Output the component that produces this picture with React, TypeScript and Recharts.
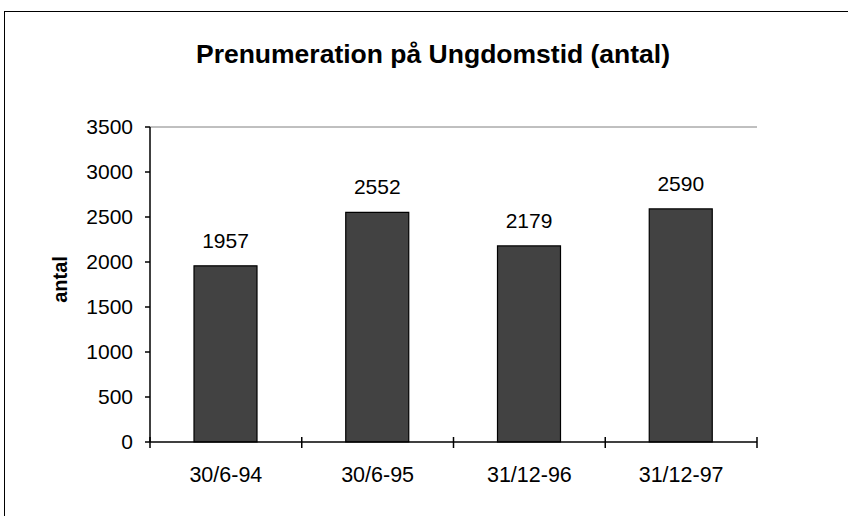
import React from 'react';
import { BarChart, Bar, XAxis, YAxis, LabelList, ReferenceLine } from 'recharts';

const categories = ['30/6-94', '30/6-95', '31/12-96', '31/12-97'];
const subscribers = [1957, 2552, 2179, 2590];
const yTicks = [0, 500, 1000, 1500, 2000, 2500, 3000, 3500];

const data = categories.map((name, i) => ({ name, antal: subscribers[i] }));

const FONT = '"Liberation Sans", Arial, sans-serif';
const PLOT_LEFT = 150;
const PLOT_RIGHT = 757;
const PLOT_BOTTOM = 442;
const BAND = (PLOT_RIGHT - PLOT_LEFT) / categories.length;

// Excel style: ticks sit between categories and cross the axis
const XTick = (props: any) => {
  const { x, payload, index } = props;
  const left = x - BAND / 2;
  const right = x + BAND / 2;
  return (
    <g>
      <line x1={left} x2={left} y1={PLOT_BOTTOM - 5} y2={PLOT_BOTTOM + 6} stroke="#000" strokeWidth={1.5} />
      {index === categories.length - 1 && (
        <line x1={right} x2={right} y1={PLOT_BOTTOM - 5} y2={PLOT_BOTTOM + 6} stroke="#000" strokeWidth={1.5} />
      )}
      <text x={x} y={PLOT_BOTTOM + 40} textAnchor="middle" fontSize={21.5} fill="#000" fontFamily={FONT}>
        {payload.value}
      </text>
    </g>
  );
};

const YLabel = (props: any) => {
  const { viewBox } = props;
  const cx = viewBox.x - 3;
  const cy = viewBox.y + viewBox.height / 2 - 5;
  return (
    <text
      x={cx}
      y={cy}
      transform={`rotate(-90 ${cx} ${cy})`}
      textAnchor="middle"
      fontSize={20}
      fontWeight="bold"
      fill="#000"
      fontFamily={FONT}
    >
      antal
    </text>
  );
};

export default function App() {
  return (
    <div style={{ position: 'absolute', left: 0, top: 0, width: 848, height: 516, overflow: 'hidden', background: '#fff' }}>
      <div
        style={{
          position: 'absolute',
          left: 4,
          top: 11,
          width: 900,
          height: 600,
          border: '1px solid #000',
        }}
      />
      <div
        style={{
          position: 'absolute',
          left: 0,
          top: 41,
          width: 866,
          textAlign: 'center',
          fontFamily: FONT,
          fontWeight: 'bold',
          fontSize: 26.5,
          lineHeight: '26px',
          color: '#000',
        }}
      >
        Prenumeration på Ungdomstid (antal)
      </div>
      <div style={{ position: 'absolute', left: 0, top: 0 }}>
        <BarChart
          width={848}
          height={516}
          data={data}
          margin={{ top: 127, right: 91, bottom: 34, left: 70 }}
        >
          <XAxis
            dataKey="name"
            height={40}
            tickLine={false}
            axisLine={{ stroke: '#000', strokeWidth: 1.5 }}
            tick={<XTick />}
            interval={0}
          />
          <YAxis
            width={80}
            domain={[0, 3500]}
            ticks={yTicks}
            interval={0}
            tickSize={5}
            tickMargin={12}
            axisLine={{ stroke: '#000', strokeWidth: 1.5 }}
            tickLine={{ stroke: '#000', strokeWidth: 1.5 }}
            tick={{ fill: '#000', fontSize: 21, fontFamily: FONT }}
            label={<YLabel />}
          />
          <YAxis
            yAxisId="right"
            orientation="right"
            width={0}
            domain={[0, 3500]}
            tick={false}
            tickLine={false}
            axisLine={{ stroke: '#808080' }}
          />
          <ReferenceLine y={3500} stroke="#808080" />
          <Bar dataKey="antal" fill="#424242" stroke="#000" strokeWidth={1.2} barSize={63} isAnimationActive={false}>
            <LabelList
              dataKey="antal"
              position="top"
              offset={18}
              fill="#000"
              fontSize={21}
              fontFamily={FONT}
            />
          </Bar>
        </BarChart>
      </div>
    </div>
  );
}
